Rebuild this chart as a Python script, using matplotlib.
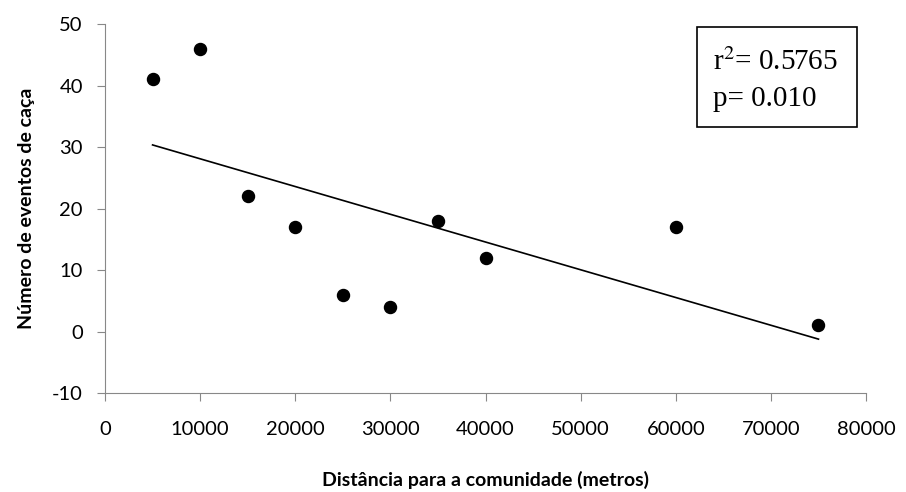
import numpy as np
import matplotlib.pyplot as plt
from matplotlib.patches import Rectangle

# dados
distancia = [5000, 10000, 15000, 20000, 25000, 30000, 35000, 40000, 60000, 75000]
eventos = [41, 46, 22, 17, 6, 4, 18, 12, 17, 1]
x_ticks = [0, 10000, 20000, 30000, 40000, 50000, 60000, 70000, 80000]
y_ticks = [-10, 0, 10, 20, 30, 40, 50]

plt.rcParams['font.family'] = ['Lato', 'DejaVu Sans']
plt.rcParams['axes.unicode_minus'] = False
plt.rcParams['mathtext.fontset'] = 'stix'

fig = plt.figure(figsize=(9.06, 4.92), dpi=100)
ax = fig.add_axes([0.1159, 0.201, 0.84, 0.75])

# linha de tendência (regressão linear)
coef = np.polyfit(distancia, eventos, 1)
xs = np.array([min(distancia), max(distancia)])
ax.plot(xs, np.polyval(coef, xs), color='black', lw=1.2)

ax.scatter(distancia, eventos, s=75, color='black', zorder=3)

ax.set_xlim(0, 80000)
ax.set_ylim(-10, 50)
ax.set_xticks(x_ticks)
ax.set_yticks(y_ticks)
ax.tick_params(labelsize=14.5, color='#888888', length=6)
ax.tick_params(axis='x', pad=14)
ax.tick_params(axis='y', pad=10)

for side in ['top', 'right']:
    ax.spines[side].set_visible(False)
for side in ['left', 'bottom']:
    ax.spines[side].set_color('#888888')

ax.set_xlabel('Distância para a comunidade (metros)', fontsize=14, fontweight='bold', labelpad=24)
ax.set_ylabel('Número de eventos de caça', fontsize=14, fontweight='bold', labelpad=12)

# caixa com estatísticas
ax.add_patch(Rectangle((0.778, 0.721), 0.21, 0.271, transform=ax.transAxes,
                       facecolor='white', edgecolor='black', lw=1.2, zorder=4, clip_on=False))
ax.text(0.799, 0.897, 'r$^{2}$= 0.5765', transform=ax.transAxes, fontsize=21,
        family=['Liberation Serif'], va='center', ha='left', zorder=5)
ax.text(0.799, 0.797, 'p= 0.010', transform=ax.transAxes, fontsize=21,
        family=['Liberation Serif'], va='center', ha='left', zorder=5)

fig.savefig('out.png', dpi=100)
